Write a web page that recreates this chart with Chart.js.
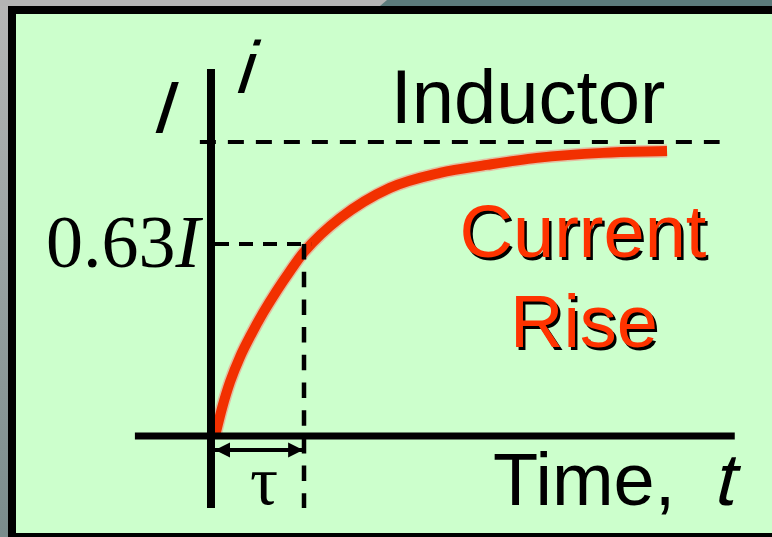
<!DOCTYPE html>
<html><head><meta charset="utf-8">
<script src="https://cdn.jsdelivr.net/npm/chart.js@4/dist/chart.umd.min.js"></script>
<style>html,body{margin:0;padding:0;background:#ccffcc;overflow:hidden}canvas{display:block}</style>
</head><body>
<canvas id="c" width="772" height="537"></canvas>
<script>
// ---- data: time in units of tau, current in units of the final current I ----
const curveTime    = [0, 0.079, 0.169, 0.281, 0.404, 0.539, 0.685, 0.843, 1.000, 1.404, 1.966, 2.528, 3.056, 3.618, 4.360, 5.079];
const curveCurrent = [0, 0.095, 0.184, 0.269, 0.344, 0.418, 0.490, 0.561, 0.626, 0.741, 0.844, 0.895, 0.922, 0.946, 0.963, 0.969];
const finalCurrent = 1.0;          // I
const tauCurrent   = 0.653;        // drawn height of the 0.63I guide
const tauTime      = 1.0;          // tau
const timeAxisSpan    = [-0.90, 5.84];
const currentAxisSpan = [-0.245, 1.248];
const currentAxisTime = -0.045;
const finalGuideSpan  = [-0.17, 5.67];
const tauGuideStart   = 0.0;
const tauDropBottom   = -0.245;
const arrowCurrent    = -0.048;
const arrowSpan       = [0.0, 0.99];
const textLabels = ['I', 'i', 'Inductor', '0.63', 'I', 'Current', 'Rise', 'Time,', 't', 'τ'];

const seg = (xs, ys) => xs.map((x, k) => ({x, y: ys[k]}));

const frame = {
  id: 'frame',
  beforeDraw(chart) {
    const c = chart.ctx, W = chart.width, H = chart.height;
    c.save();
    const lg = c.createLinearGradient(0, 0, 0, H);
    lg.addColorStop(0, '#b6b6b6'); lg.addColorStop(1, '#7a8c8c');
    c.fillStyle = lg; c.fillRect(0, 0, 8, H);
    c.fillStyle = '#b4b4b4'; c.fillRect(0, 0, W, 6);
    c.fillStyle = '#5b7b7b';
    c.beginPath(); c.moveTo(380, 6); c.lineTo(387, 0); c.lineTo(W, 0); c.lineTo(W, 6); c.closePath(); c.fill();
    c.fillStyle = '#000';
    c.fillRect(8, 6, W - 8, 8);
    c.fillRect(8, 6, 8, H - 6);
    c.fillRect(8, 533, W - 8, 4);
    c.fillStyle = '#ccffcc';
    c.fillRect(16, 14, W - 16, 519);
    c.restore();
  },
  afterDatasetsDraw(chart) {
    const c = chart.ctx, xs = chart.scales.x, ys = chart.scales.y;
    c.save();
    const y = ys.getPixelForValue(arrowCurrent);
    const xl = xs.getPixelForValue(arrowSpan[0]), xr = xs.getPixelForValue(arrowSpan[1]);
    c.fillStyle = '#000';
    c.beginPath(); c.moveTo(xl, y); c.lineTo(xl + 15, y - 7.5); c.lineTo(xl + 15, y + 7.5); c.closePath(); c.fill();
    c.beginPath(); c.moveTo(xr, y); c.lineTo(xr - 15, y - 7.5); c.lineTo(xr - 15, y + 7.5); c.closePath(); c.fill();

    const skewText = (t, x, yb, font, k, align) => {
      c.save();
      c.font = font; c.textAlign = align || 'left'; c.textBaseline = 'alphabetic';
      c.setTransform(1, 0, -k, 1, k * yb, 0);
      c.fillText(t, x, yb);
      c.restore();
    };
    c.fillStyle = '#000';
    skewText(textLabels[0], 159, 133, '74px "Liberation Sans"', 0.32, 'center');
    skewText(textLabels[1], 241, 93, '74px "Liberation Sans"', 0.32, 'center');

    c.textBaseline = 'alphabetic';
    c.font = '76px "Liberation Sans"'; c.textAlign = 'center';
    c.fillText(textLabels[2], 528, 123);

    c.textAlign = 'left';
    c.font = '74px "Liberation Serif"';
    c.fillText(textLabels[3], 46, 267);
    const w = c.measureText(textLabels[3]).width;
    c.font = 'italic 74px "Liberation Serif"';
    c.fillText(textLabels[4], 46 + w, 267);

    c.font = '74px "Liberation Sans"'; c.textAlign = 'center';
    c.fillStyle = '#000';
    c.fillText(textLabels[5], 585.5, 259.5);
    c.fillText(textLabels[6], 586.5, 349.5);
    c.fillStyle = '#ff3300';
    c.fillText(textLabels[5], 583, 257);
    c.fillText(textLabels[6], 584, 347);

    c.fillStyle = '#000';
    c.textAlign = 'left';
    c.font = '74px "Liberation Sans"';
    c.fillText(textLabels[7], 493, 505);
    skewText(textLabels[8], 712, 505, '74px "Liberation Sans"', 0.25, 'left');

    c.font = '70px "Liberation Serif"'; c.textAlign = 'center';
    c.fillText(textLabels[9], 264, 504);
    c.restore();
  }
};

const dash = (data, width, pattern, order) => ({
  data, showLine: true, borderColor: '#000', borderWidth: width,
  borderDash: pattern || [], pointRadius: 0, order, tension: 0
});

new Chart(document.getElementById('c'), {
  type: 'scatter',
  data: {
    datasets: [
      dash(seg(timeAxisSpan, [0, 0]), 7, null, 0),
      dash(seg([currentAxisTime, currentAxisTime], currentAxisSpan), 8, null, 0),
      dash(seg(arrowSpan, [arrowCurrent, arrowCurrent]), 4, null, 1),
      dash(seg(finalGuideSpan, [finalCurrent, finalCurrent]), 4, [16, 12], 1),
      dash(seg([tauGuideStart, tauTime + 0.08], [tauCurrent, tauCurrent]), 4, [14, 10], 1),
      dash(seg([tauTime, tauTime], [tauCurrent, tauDropBottom]), 4.5, [15.5, 12.2], 1),
      {
        data: seg(curveTime, curveCurrent), showLine: true,
        borderColor: '#f23000', borderWidth: 10, pointRadius: 0,
        cubicInterpolationMode: 'monotone', order: 2, borderCapStyle: 'butt'
      },
      {
        data: seg(curveTime, curveCurrent), showLine: true,
        borderColor: 'rgba(255,110,110,0.45)', borderWidth: 13, pointRadius: 0,
        cubicInterpolationMode: 'monotone', order: 3, borderCapStyle: 'butt'
      }
    ]
  },
  options: {
    responsive: false, animation: false, events: [],
    layout: {padding: 0},
    plugins: {legend: {display: false}, tooltip: {enabled: false}},
    scales: {
      x: {type: 'linear', display: false, min: -215 / 89, max: (772 - 215) / 89},
      y: {type: 'linear', display: false, min: -(537 - 436) / 294, max: 436 / 294}
    }
  },
  plugins: [frame]
});
</script>
</body></html>
